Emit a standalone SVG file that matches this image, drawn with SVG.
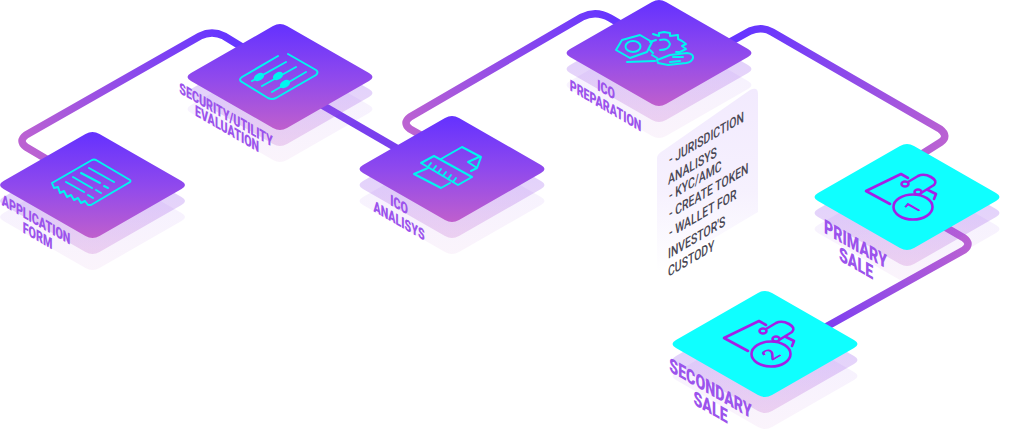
<svg xmlns="http://www.w3.org/2000/svg" width="1014" height="430" viewBox="0 0 1014 430">
<style>
.lbl{font-family:Roboto,"Liberation Sans",sans-serif;font-weight:900;font-size:15.5px;fill:#9b53ec;text-anchor:middle}
.big{font-size:20px}
.note{font-family:Roboto,"Liberation Sans",sans-serif;font-weight:500;font-size:14.5px;fill:#4a4854}
.con{fill:none;stroke-width:7.5;stroke-linejoin:round}
.ic{fill:none;stroke:#00f5f0;stroke-width:2;stroke-linejoin:round;stroke-linecap:round}
.ip{fill:none;stroke:#a41fe6;stroke-width:2.6;stroke-linejoin:round;stroke-linecap:round}
.dg{font-family:Roboto,"Liberation Sans",sans-serif;font-weight:500;font-size:24px;fill:#a41fe6;text-anchor:middle}
.l2{opacity:.24}
.l3{opacity:.07}
</style>
<defs>
<linearGradient id="g" x1="0" y1="0" x2="0" y2="1"><stop offset="0" stop-color="#6431ff"/><stop offset=".5" stop-color="#8f49ed"/><stop offset="1" stop-color="#bf5fcd"/></linearGradient>
<linearGradient id="c1" gradientUnits="userSpaceOnUse" x1="30" y1="150" x2="225" y2="35"><stop offset="0" stop-color="#bb62d2"/><stop offset="1" stop-color="#6635ff"/></linearGradient>
<linearGradient id="c3" gradientUnits="userSpaceOnUse" x1="410" y1="130" x2="610" y2="15"><stop offset="0" stop-color="#bb62d2"/><stop offset="1" stop-color="#6635ff"/></linearGradient>
<linearGradient id="c4" gradientUnits="userSpaceOnUse" x1="750" y1="30" x2="945" y2="145"><stop offset="0" stop-color="#6635ff"/><stop offset="1" stop-color="#bb62d2"/></linearGradient>
<linearGradient id="c5" gradientUnits="userSpaceOnUse" x1="968" y1="240" x2="825" y2="325"><stop offset="0" stop-color="#bb62d2"/><stop offset="1" stop-color="#7e3ff0"/></linearGradient>
<linearGradient id="pn" x1="0" y1="0" x2="0" y2="1"><stop offset="0" stop-color="#f2eafe"/><stop offset=".55" stop-color="#f6f1fe"/><stop offset="1" stop-color="#ffffff"/></linearGradient>
<path id="d" d="M-7,-51 Q0,-55 7,-51 L89,-4 Q96,0 89,4 L7,51 Q0,55 -7,51 L-89,4 Q-96,0 -89,-4 Z"/>
<g id="tag">
<path class="ip" d="M890,204 L866,191 L901,174 L908,178"/>
<ellipse class="ip" cx="905" cy="184" rx="3.500" ry="2.500"/>
<ellipse class="ip" cx="918" cy="192" rx="3.500" ry="2.500"/>
<path class="ip" d="M908,182 L918,176 Q924,173 931,177 Q938,181 934,185 L921,193"/>
<path class="ip" d="M928,190 L936,194 L934,199"/>
<ellipse class="ip" cx="913" cy="207" rx="19.500" ry="12.500"/>
</g>
</defs>

<g id="connectors">
<path class="con" stroke="url(#c1)" d="M48,160 L26,147 Q18,141 26,135 L200,36 Q212,30 224,36 L242,47"/>
<path class="con" stroke="#7a3fee" d="M322,105 L398,149"/>
<path class="con" stroke="url(#c3)" d="M426,138 L410,129 Q402,123 410,117 L582,17 Q596,10 610,18 L622,25"/>
<path class="con" stroke="url(#c4)" d="M730,42 L750,31 Q762,26 772,32 L940,129 Q949,136 941,142 L922,154"/>
<path class="con" stroke="url(#c5)" d="M945,227 L964,238 Q972,244 964,250 L824,328"/>
</g>

<g id="panel"><path fill="url(#pn)" d="M664,150 L750,90 Q758,86 758,94 L758,212 L657,272 L657,158 Q657,154 664,150 Z"/></g>

<g id="node-application-form">
<use href="#d" x="92.500" y="217" fill="url(#g)" class="l3"/>
<use href="#d" x="92.500" y="201" fill="url(#g)" class="l2"/>
<use href="#d" x="92.500" y="185" fill="url(#g)"/>
<g class="ic"><path d="M52,183 L92,160 Q94,159 96,160 L130,180 Q131,181 130,182 L91,205 L88,205 L85,201 L81,203 L78,198 L74,200 L71,195 L67,197 L64,191 L60,193 L58,187 L54,188 Z"/>
<path d="M89,168 L114,182M81,173 L100,183M104,186 L108,188M73,177 L92,188M96,190 L101,193M66,182 L84,192M88,195 L93,198"/></g>
<text class="lbl" transform="matrix(.69 .4 0 1 36 225)">APPLICATION</text>
<text class="lbl" transform="matrix(.69 .4 0 1 37.500 241)">FORM</text>
</g>

<g id="node-security-evaluation">
<use href="#d" x="280" y="109" fill="url(#g)" class="l3"/>
<use href="#d" x="280" y="93" fill="url(#g)" class="l2"/>
<use href="#d" x="280" y="77" fill="url(#g)"/>
<g class="ic"><path d="M278,56 L242,77 Q238,80 242,82 L268,98 Q272,100 276,98 L316,75 Q319,72 316,70 L288,54"/>
<path d="M252,81 L286,62M262,86 L296,67M272,92 L306,72"/></g>
<g fill="#00f5f0"><ellipse cx="259" cy="77" rx="5.500" ry="3.600" transform="rotate(-30 259 77)"/><ellipse cx="278" cy="76" rx="5.500" ry="3.600" transform="rotate(-30 278 76)"/><ellipse cx="285" cy="84" rx="5.500" ry="3.600" transform="rotate(-30 285 84)"/></g>
<text class="lbl" transform="matrix(.69 .4 0 1 226 120)">SECURITY/UTILITY</text>
<text class="lbl" transform="matrix(.69 .4 0 1 227 134)">EVALUATION</text>
</g>

<g id="node-ico-analisys">
<use href="#d" x="452" y="201" fill="url(#g)" class="l3"/>
<use href="#d" x="452" y="185" fill="url(#g)" class="l2"/>
<use href="#d" x="452" y="169" fill="url(#g)"/>
<g class="ic"><path d="M441,159 L462,147 L481,157 L477,168 L468,162 L479,157M477,168 L471,171"/>
<path d="M421,163 L434,156 L472,177 L458,185 Z"/>
<path d="M428,168 L414,174 L441,188 L450,183"/>
<path d="M428,167 L431,163M433,170 L436,166M438,173 L441,169M443,176 L446,172M448,179 L451,175M453,182 L456,178"/></g>
<text class="lbl" transform="matrix(.69 .4 0 1 399 210)">ICO</text>
<text class="lbl" transform="matrix(.69 .4 0 1 399 226)">ANALISYS</text>
</g>

<g id="node-ico-preparation">
<use href="#d" x="659" y="85" fill="url(#g)" class="l3"/>
<use href="#d" x="659" y="69" fill="url(#g)" class="l2"/>
<use href="#d" x="659" y="53" fill="url(#g)"/>
<g class="ic"><path d="M616,50 L622,40 L640,35 L652,42 L647,52 L630,58 Z"/>
<ellipse cx="633" cy="46.500" rx="7.500" ry="5.500"/>
<path d="M653,34 L659,36 L659,33 L664,32 L670,33 L670,36 L678,35 L678,39 L682,41 L686,44 L682,46 L686,49 L680,52 L676,52"/>
<path d="M650,42 L656,40M653,53 L650,50M657,58 L652,55"/>
<path d="M660,40 Q668,38 670,44 Q669,50 660,50"/>
<path d="M627,62 L655,61M657,60 L670,55 L687,53 Q694,54 693,58 Q692,62 686,63 L668,65 L658,63 Z M673,57 L683,57M670,62 L680,61"/></g>
<text class="lbl" transform="matrix(.69 .4 0 1 606 95)">ICO</text>
<text class="lbl" transform="matrix(.69 .4 0 1 605.500 111)">PREPARATION</text>
</g>

<g id="notes">
<text class="note" transform="matrix(.72 -.42 0 1 669 165)">- JURISDICTION</text>
<text class="note" transform="matrix(.72 -.42 0 1 668 185)">ANALISYS</text>
<text class="note" transform="matrix(.72 -.42 0 1 669 201)">- KYC/AMC</text>
<text class="note" transform="matrix(.72 -.42 0 1 669 219)">- CREATE TOKEN</text>
<text class="note" transform="matrix(.72 -.42 0 1 669 238)">- WALLET FOR</text>
<text class="note" transform="matrix(.72 -.42 0 1 668 259)">INVESTOR'S</text>
<text class="note" transform="matrix(.72 -.42 0 1 668 277)">CUSTODY</text>
</g>

<g id="node-primary-sale">
<use href="#d" x="907" y="229" fill="url(#g)" class="l3"/>
<use href="#d" x="907" y="213" fill="url(#g)" class="l2"/>
<use href="#d" x="907" y="197" fill="#0fffff"/>
<use href="#tag"/>
<text class="dg" transform="matrix(.75 -.43 .75 .43 919 211)">1</text>
<text class="lbl big" transform="matrix(.71 .41 0 1 855.500 251)">PRIMARY</text>
<text class="lbl big" transform="matrix(.71 .41 0 1 856 270)">SALE</text>
</g>

<g id="node-secondary-sale">
<use href="#d" x="765" y="376" fill="url(#g)" class="l3"/>
<use href="#d" x="765" y="360" fill="url(#g)" class="l2"/>
<use href="#d" x="765" y="344" fill="#0fffff"/>
<use href="#tag" x="-142" y="147"/>
<text class="dg" transform="matrix(.75 -.43 .75 .43 777 358)">2</text>
<text class="lbl big" transform="matrix(.71 .41 0 1 710.500 395)">SECONDARY</text>
<text class="lbl big" transform="matrix(.71 .41 0 1 710.500 414)">SALE</text>
</g>
</svg>
